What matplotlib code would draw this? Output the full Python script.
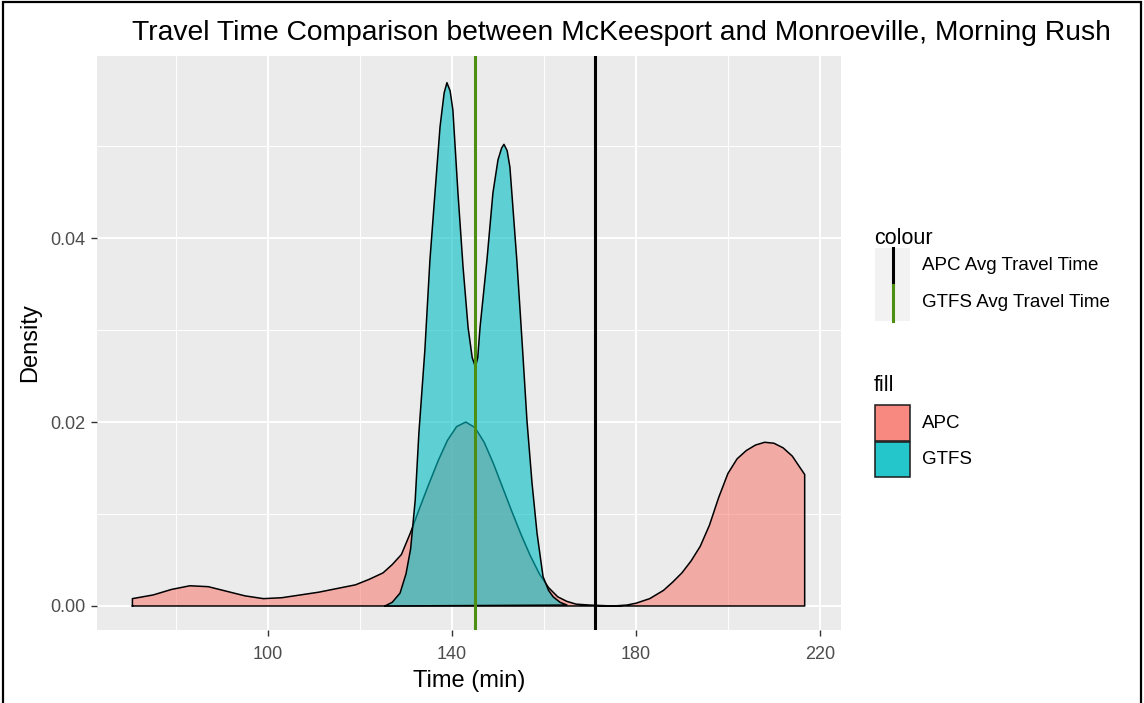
import matplotlib
matplotlib.use("Agg")
import matplotlib.pyplot as plt
from matplotlib.patches import Rectangle
from matplotlib.lines import Line2D

plt.rcParams['font.family'] = ['Liberation Sans', 'DejaVu Sans']

# ---------------- data ----------------
apc_time = [70.5, 70.5, 75, 79, 83, 87, 91, 95, 99, 103, 107, 111, 115, 119, 122, 125, 127, 129,
            131, 133, 135, 137, 139, 141, 143, 145, 147, 149, 151, 153, 155, 157, 159, 161, 163,
            165, 167, 170, 175, 178, 180, 183, 186, 188, 190, 192, 194, 196, 198, 200, 202, 204,
            206, 208, 210, 212, 214, 216.7, 216.7]
apc_density = [0.0, 0.0008, 0.0012, 0.0018, 0.0022, 0.0021, 0.0016, 0.0011, 0.0008, 0.0009, 0.0012,
               0.0015, 0.0019, 0.0023, 0.0029, 0.0036, 0.0045, 0.0056, 0.0080, 0.0107, 0.0133,
               0.0158, 0.0180, 0.0195, 0.0200, 0.0194, 0.0178, 0.0155, 0.0129, 0.0103, 0.0078,
               0.0055, 0.0035, 0.0020, 0.0010, 0.0005, 0.0002, 0.0001, 0.0, 0.0001, 0.0003, 0.0008,
               0.0017, 0.0026, 0.0036, 0.0049, 0.0065, 0.0088, 0.0118, 0.0144, 0.0160, 0.0169,
               0.0175, 0.0178, 0.0177, 0.0172, 0.0163, 0.0143, 0.0]

gtfs_time = [125.4, 127, 128.7, 130, 131, 132, 132.8, 134.1, 135.2, 136.3, 137.4, 138.3, 138.9,
             139.6, 140.2, 141.3, 142.4, 143.5, 144.4, 145.1, 145.6, 146.1, 147.6, 148.9, 150,
             150.8, 151.3, 152, 152.6, 153.3, 154.1, 154.8, 155.4, 156.3, 157.4, 158.5, 159.8,
             161, 162, 163.5, 165]
gtfs_density = [0.0, 0.0004, 0.0014, 0.0035, 0.0062, 0.0115, 0.0188, 0.0278, 0.0376, 0.0449,
                0.0521, 0.0558, 0.0569, 0.0560, 0.0539, 0.0449, 0.0369, 0.0303, 0.0270, 0.0260,
                0.0270, 0.0303, 0.0376, 0.0449, 0.0485, 0.0498, 0.0502, 0.0495, 0.0477, 0.0430,
                0.0376, 0.0322, 0.0275, 0.0202, 0.0134, 0.0079, 0.0032, 0.0017, 0.0010, 0.0004,
                0.0001]

apc_avg_time = 171.0
gtfs_avg_time = 145.0

x_ticks = [100, 140, 180, 220]
x_minor = [80, 120, 160, 200]
y_ticks = [0.00, 0.02, 0.04]
y_minor = [0.01, 0.03, 0.05]
y_tick_labels = ["0.00", "0.02", "0.04"]

fill_labels = ["APC", "GTFS"]
colour_labels = ["APC Avg Travel Time", "GTFS Avg Travel Time"]

title = "Travel Time Comparison between McKeesport and Monroeville, Morning Rush"

# ---------------- styling ----------------
W, H = 1144, 703
APC_COL = "#F8766D"
GTFS_COL = "#00BFC4"
GREEN = "#4d8f12"
PANEL_BG = "#EBEBEB"

fig = plt.figure(figsize=(W / 100, H / 100), dpi=100)
fig.patch.set_facecolor("white")

def fx(px):
    return px / W

def fy(py):
    return 1 - py / H

ax = fig.add_axes([fx(97), fy(630), fx(841) - fx(97), fy(56) - fy(630)])
ax.set_facecolor(PANEL_BG)
for s in ax.spines.values():
    s.set_visible(False)

ax.set_xlim(62.8, 224.6)
ax.set_ylim(-0.00261, 0.0598)

# grid
for v in x_minor:
    ax.axvline(v, color="white", lw=0.7, zorder=0.5)
for v in y_minor:
    ax.axhline(v, color="white", lw=0.7, zorder=0.5)
for v in x_ticks:
    ax.axvline(v, color="white", lw=1.4, zorder=0.6)
for v in y_ticks:
    ax.axhline(v, color="white", lw=1.4, zorder=0.6)

# densities (closed outlines, as ggplot draws them)
ax.fill(apc_time, apc_density, facecolor=APC_COL, alpha=0.55, edgecolor="none", zorder=1)
ax.plot(apc_time + [apc_time[0]], apc_density + [apc_density[0]], color="black", lw=1.1, zorder=1.1)
ax.fill(gtfs_time, gtfs_density, facecolor=GTFS_COL, alpha=0.6, edgecolor="none", zorder=2)
ax.plot(gtfs_time + [gtfs_time[0]], gtfs_density + [gtfs_density[0]], color="black", lw=1.1, zorder=2.1)

# average lines
ax.axvline(apc_avg_time, color="black", lw=2.2, zorder=3)
ax.axvline(gtfs_avg_time, color=GREEN, lw=2.2, zorder=3)

# ticks
ax.set_xticks(x_ticks)
ax.set_xticklabels([str(v) for v in x_ticks])
ax.set_yticks(y_ticks)
ax.set_yticklabels(y_tick_labels)
ax.tick_params(axis="both", length=4.5, width=1.0, color="#333333",
               labelcolor="#4D4D4D", labelsize=13)
ax.tick_params(axis="x", pad=7)
ax.tick_params(axis="y", pad=4)

ax.set_xlabel("Time (min)", fontsize=17, color="black", labelpad=5)
ax.set_ylabel("Density", fontsize=17, color="black", labelpad=6)

# title
fig.text(fx(132), fy(33), title, fontsize=20.3, color="black", ha="left", va="center")

# ---------------- legends (manual, ggplot style) ----------------
fig.text(fx(874), fy(238), "colour", fontsize=15.5, ha="left", va="center")
for i, (lab, col) in enumerate(zip(colour_labels, ["black", GREEN])):
    top = 248 + i * 36.5
    fig.add_artist(Rectangle((fx(875), fy(top + 36.5)), fx(910) - fx(875), fy(top) - fy(top + 36.5),
                             transform=fig.transFigure, facecolor="#F2F2F2", edgecolor="none"))
    fig.add_artist(Line2D([fx(892.5), fx(892.5)], [fy(top + 36.5), fy(top)],
                          transform=fig.transFigure, color=col, lw=2.2))
    fig.text(fx(922), fy(top + 18), lab, fontsize=13.5, ha="left", va="center")

fig.text(fx(874), fy(386), "fill", fontsize=15.5, ha="left", va="center")
key_cols = ["#F78981", "#24C6CB"]
for i, (lab, col) in enumerate(zip(fill_labels, key_cols)):
    top = 405 + i * 36.5
    fig.add_artist(Rectangle((fx(875), fy(top + 35.5)), fx(910) - fx(875), fy(top) - fy(top + 35.5),
                             transform=fig.transFigure, facecolor=col, edgecolor="#1a1a1a", lw=1.1))
    fig.text(fx(922), fy(top + 18), lab, fontsize=13.5, ha="left", va="center")

# outer black frame
fig.add_artist(Rectangle((fx(3), fy(712)), fx(1141) - fx(3), fy(2) - fy(712),
                         transform=fig.transFigure, facecolor="none", edgecolor="black", lw=1.6))

fig.savefig("out.png", dpi=100)
